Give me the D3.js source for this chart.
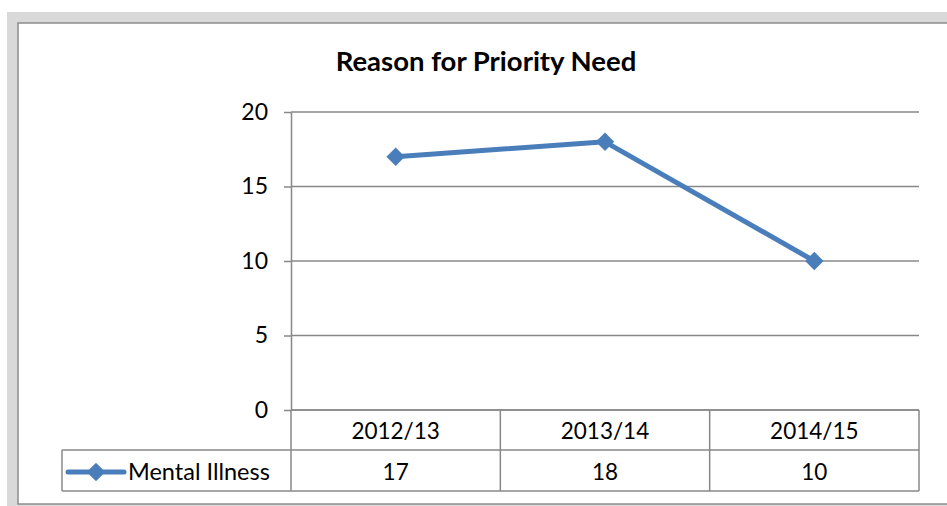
<!DOCTYPE html>
<html>
<head>
<meta charset="utf-8">
<script src="https://cdn.jsdelivr.net/npm/d3@7"></script>
<style>
  body { margin: 0; background: #fff; }
  text { font-family: Lato, "Open Sans", sans-serif; fill: #000; }
</style>
</head>
<body>
<svg id="chart" width="947" height="506"></svg>
<script>
// data
var years = ['2012/13', '2013/14', '2014/15']
var mentalIllness = [17, 18, 10]
var seriesName = 'Mental Illness'
var yTicks = [0, 5, 10, 15, 20]

var svg = d3.select('#chart')
var lineColor = '#4a7ebb'
var gridColor = '#888'

// outer frame (gray band + white chart area)
svg.append('rect').attr('x', 7).attr('y', 12).attr('width', 960).attr('height', 500).attr('fill', '#d9d9d9')
svg.append('rect').attr('x', 18).attr('y', 23).attr('width', 960).attr('height', 481)
  .attr('fill', '#fff').attr('stroke', '#8c8c8c').attr('stroke-width', 1.5)

var margin = { left: 291, right: 919, top: 112, bottom: 410 }

var x = d3.scaleBand().domain(years).range([margin.left, margin.right])
var y = d3.scaleLinear().domain([0, 20]).range([margin.bottom, margin.top])

// title
svg.append('text')
  .attr('x', 486).attr('y', 71)
  .attr('text-anchor', 'middle')
  .style('font-size', '27.5px').style('font-weight', 'bold')
  .text('Reason for Priority Need')

// grid lines
svg.append('g').selectAll('line')
  .data(yTicks)
  .enter().append('line')
  .attr('x1', margin.left).attr('x2', margin.right)
  .attr('y1', d => y(d)).attr('y2', d => y(d))
  .attr('stroke', gridColor).attr('stroke-width', 1.5)

// y axis
var yAxis = svg.append('g')
  .attr('transform', 'translate(' + margin.left + ',0)')
  .call(d3.axisLeft(y).tickValues(yTicks).tickSize(7).tickSizeOuter(0).tickPadding(16))
yAxis.select('.domain').attr('stroke', gridColor).attr('stroke-width', 1.5)
yAxis.selectAll('.tick line').attr('stroke', gridColor).attr('stroke-width', 1.5)
yAxis.selectAll('text').style('font-size', '23px').attr('fill', '#000')
  .style('font-family', 'Lato, "Open Sans", sans-serif')

// data table
var rowH = 40
var tableTop = margin.bottom
var tableLeft = 62
var tbl = svg.append('g')
  .attr('stroke', gridColor).attr('stroke-width', 1.5)
tbl.append('line').attr('x1', margin.left).attr('x2', margin.right).attr('y1', tableTop).attr('y2', tableTop)
tbl.append('line').attr('x1', tableLeft).attr('x2', margin.right).attr('y1', tableTop + rowH).attr('y2', tableTop + rowH)
tbl.append('line').attr('x1', tableLeft).attr('x2', margin.right).attr('y1', tableTop + 2 * rowH + 1).attr('y2', tableTop + 2 * rowH + 1)
tbl.append('line').attr('x1', tableLeft).attr('x2', tableLeft).attr('y1', tableTop + rowH).attr('y2', tableTop + 2 * rowH + 1)
tbl.selectAll('.sep')
  .data(years.concat(['end']))
  .enter().append('line')
  .attr('x1', (d, i) => i < years.length ? x(d) : margin.right)
  .attr('x2', (d, i) => i < years.length ? x(d) : margin.right)
  .attr('y1', tableTop).attr('y2', tableTop + 2 * rowH + 1)

svg.append('g').selectAll('text')
  .data(years)
  .enter().append('text')
  .attr('x', d => x(d) + x.bandwidth() / 2)
  .attr('y', tableTop + 29)
  .attr('text-anchor', 'middle')
  .style('font-size', '22.5px')
  .text(d => d)

svg.append('g').selectAll('text')
  .data(mentalIllness)
  .enter().append('text')
  .attr('x', (d, i) => x(years[i]) + x.bandwidth() / 2)
  .attr('y', tableTop + rowH + 30)
  .attr('text-anchor', 'middle')
  .style('font-size', '22.5px')
  .text(d => d)

// legend key inside table
var diamond = d3.symbol().type(d3.symbolSquare).size(170)
var legY = tableTop + rowH + 22
svg.append('line')
  .attr('x1', 68).attr('x2', 124).attr('y1', legY).attr('y2', legY)
  .attr('stroke', lineColor).attr('stroke-width', 5).attr('stroke-linecap', 'round')
svg.append('path')
  .attr('d', diamond)
  .attr('transform', 'translate(96,' + legY + ') rotate(45)')
  .attr('fill', lineColor)
svg.append('text')
  .attr('x', 128).attr('y', tableTop + rowH + 30)
  .style('font-size', '23.5px')
  .text(seriesName)

// series line
var line = d3.line()
  .x((d, i) => x(years[i]) + x.bandwidth() / 2)
  .y(d => y(d))

svg.append('path')
  .datum(mentalIllness)
  .attr('d', line)
  .attr('fill', 'none')
  .attr('stroke', lineColor)
  .attr('stroke-width', 5)
  .attr('stroke-linejoin', 'round')

svg.append('g').selectAll('path')
  .data(mentalIllness)
  .enter().append('path')
  .attr('d', diamond)
  .attr('transform', (d, i) => 'translate(' + (x(years[i]) + x.bandwidth() / 2) + ',' + y(d) + ') rotate(45)')
  .attr('fill', lineColor)
</script>
</body>
</html>
